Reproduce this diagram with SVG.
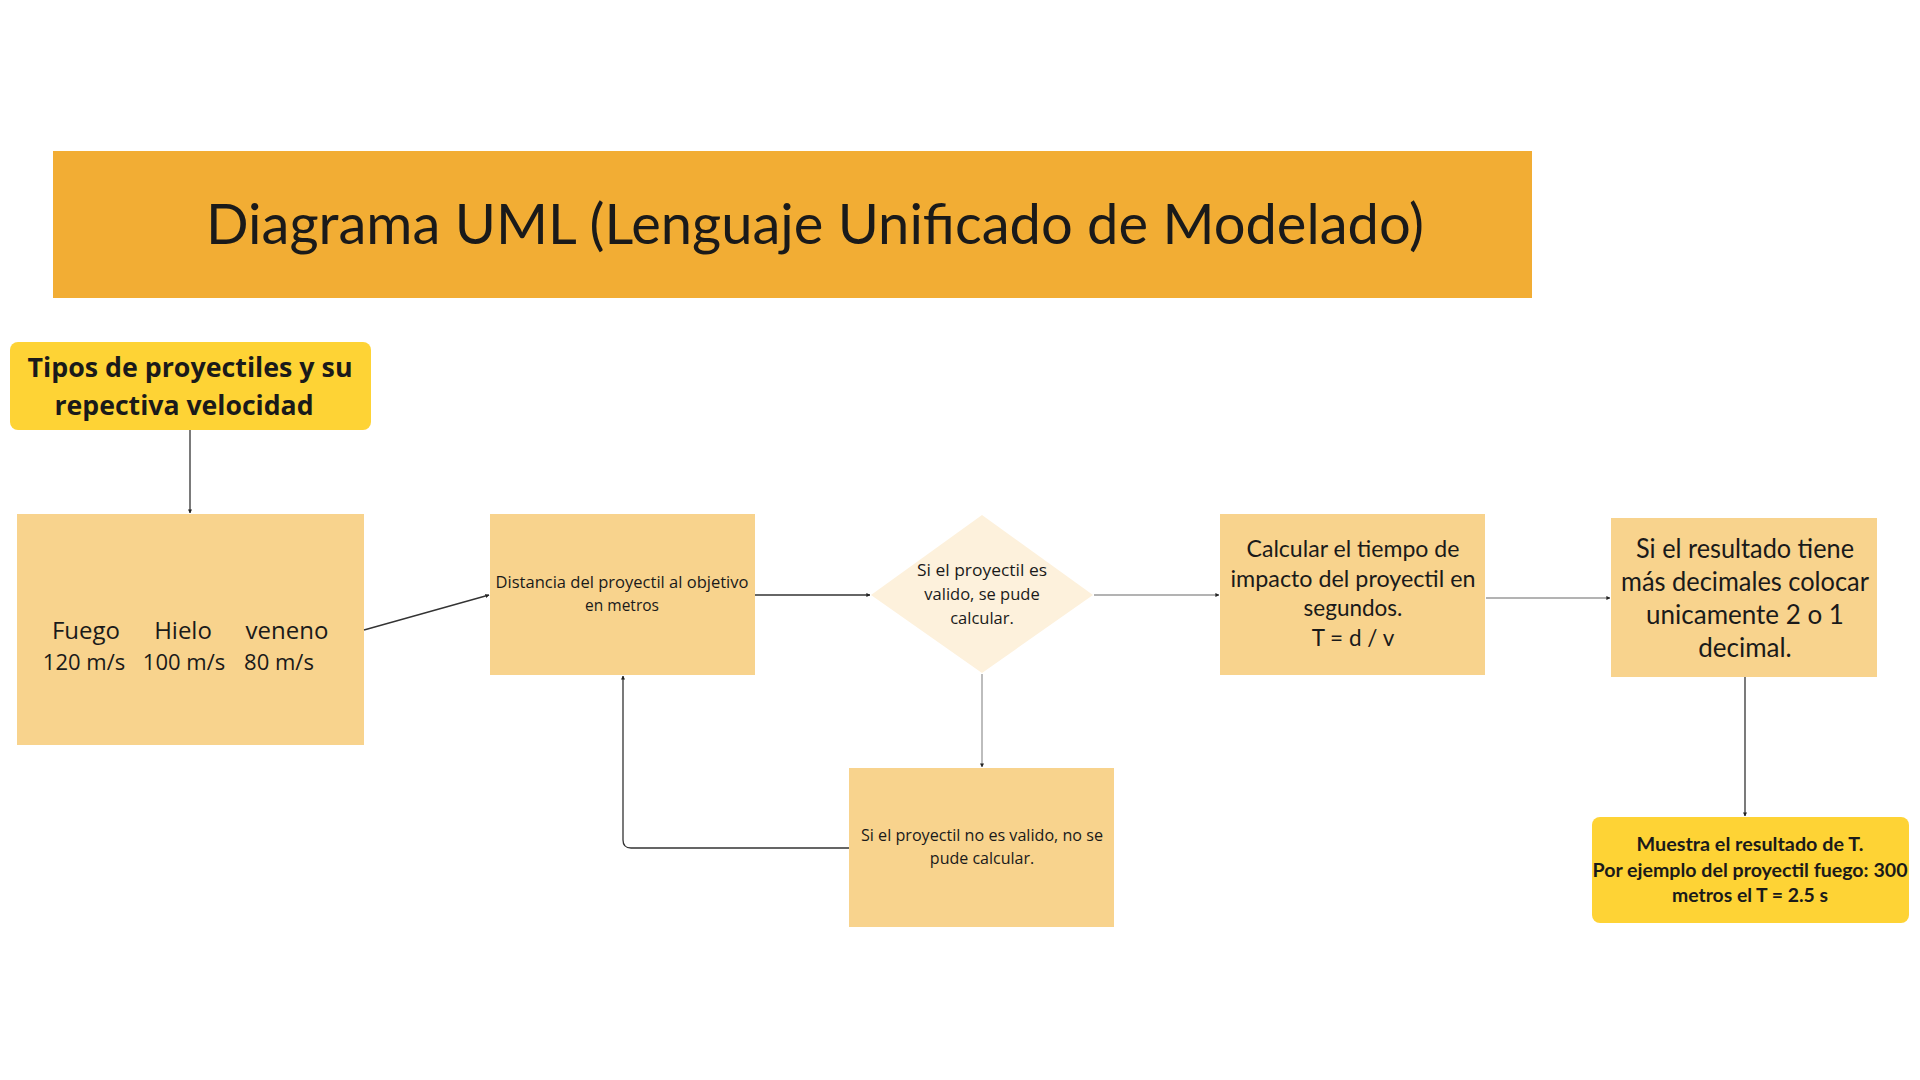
<svg xmlns="http://www.w3.org/2000/svg" width="1920" height="1080" viewBox="0 0 1920 1080">
<style>
.box{fill:#F8D38D}
.yel{fill:#FED335}
.t{font-family:"Open Sans","Liberation Sans",sans-serif;fill:#1a1a1a;text-anchor:middle}
.d{font-family:Lato,"Open Sans",sans-serif;fill:#1a1a1a;text-anchor:middle}
.b{font-weight:bold}
.c{fill:none;stroke-width:1.3}
.dk{stroke:#333}
.gr{stroke:#9a9a9a}
</style>
<defs>
<marker id="ah" viewBox="0 0 10 10" refX="9" refY="5" markerWidth="4" markerHeight="4" orient="auto" markerUnits="userSpaceOnUse">
<path d="M0,0 L10,5 L0,10 z" fill="#222"/>
</marker>
</defs>
<rect width="1920" height="1080" fill="#fff"/>
<g id="title">
<rect x="53" y="151" width="1479" height="147" fill="#F2AD34"/>
<text class="d" x="815" y="244" font-size="56" textLength="1218" lengthAdjust="spacingAndGlyphs">Diagrama UML (Lenguaje Unificado de Modelado)</text>
</g>
<g id="tipos">
<rect class="yel" x="10" y="342" width="361" height="88" rx="8"/>
<text class="t b" x="190" y="377" font-size="26" textLength="325" lengthAdjust="spacingAndGlyphs">Tipos de proyectiles y su</text>
<text class="t b" x="184" y="415" font-size="26" textLength="259" lengthAdjust="spacingAndGlyphs">repectiva velocidad</text>
</g>
<g id="proyectiles">
<rect class="box" x="17" y="514" width="347" height="231"/>
<text class="t" font-size="24" y="639"><tspan x="86">Fuego</tspan><tspan x="183">Hielo</tspan><tspan x="287">veneno</tspan></text>
<text class="t" font-size="22" y="670"><tspan x="84">120 m/s</tspan><tspan x="184">100 m/s</tspan><tspan x="279">80 m/s</tspan></text>
</g>
<g id="distancia">
<rect class="box" x="490" y="514" width="265" height="161"/>
<text class="t" x="622" y="588" font-size="15.5" textLength="253" lengthAdjust="spacingAndGlyphs">Distancia del proyectil al objetivo</text>
<text class="t" x="622" y="611" font-size="15.5">en metros</text>
</g>
<g id="decision">
<polygon points="982,515 1093,595 982,673 871,595" fill="#FDF1DC"/>
<text class="t" x="982" y="576" font-size="16.5" textLength="130" lengthAdjust="spacingAndGlyphs">Si el proyectil es</text>
<text class="t" x="982" y="600" font-size="16.5">valido, se pude</text>
<text class="t" x="982" y="624" font-size="16.5">calcular.</text>
</g>
<g id="calcular">
<rect class="box" x="1220" y="514" width="265" height="161"/>
<text class="d" x="1353" y="557" font-size="22.5" textLength="213" lengthAdjust="spacingAndGlyphs">Calcular el tiempo de</text>
<text class="d" x="1353" y="587" font-size="22.5" textLength="245" lengthAdjust="spacingAndGlyphs">impacto del proyectil en</text>
<text class="d" x="1353" y="616" font-size="22.5">segundos.</text>
<text class="d" x="1353" y="646" font-size="22.5">T = d / v</text>
</g>
<g id="resultado">
<rect class="box" x="1611" y="518" width="266" height="159"/>
<text class="d" x="1745" y="558" font-size="26" textLength="218" lengthAdjust="spacingAndGlyphs">Si el resultado tiene</text>
<text class="d" x="1745" y="591" font-size="26" textLength="248" lengthAdjust="spacingAndGlyphs">más decimales colocar</text>
<text class="d" x="1745" y="624" font-size="26">unicamente 2 o 1</text>
<text class="d" x="1745" y="657" font-size="26">decimal.</text>
</g>
<g id="muestra">
<rect class="yel" x="1592" y="817" width="317" height="106" rx="8"/>
<text class="d b" x="1750" y="851" font-size="18.5" textLength="227" lengthAdjust="spacingAndGlyphs">Muestra el resultado de T.</text>
<text class="d b" x="1750" y="877" font-size="18.5" textLength="315" lengthAdjust="spacingAndGlyphs">Por ejemplo del proyectil fuego: 300</text>
<text class="d b" x="1750" y="902" font-size="18.5" textLength="156" lengthAdjust="spacingAndGlyphs">metros el T = 2.5 s</text>
</g>
<g id="novalido">
<rect class="box" x="849" y="768" width="265" height="159"/>
<text class="t" x="982" y="841" font-size="16" textLength="242" lengthAdjust="spacingAndGlyphs">Si el proyectil no es valido, no se</text>
<text class="t" x="982" y="864" font-size="16">pude calcular.</text>
</g>
<g id="connectors">
<path class="c dk" d="M190,430 V513" marker-end="url(#ah)"/>
<path class="c dk" d="M364,630 L489,595" marker-end="url(#ah)"/>
<path class="c dk" d="M755,595 H870" marker-end="url(#ah)"/>
<path class="c gr" d="M1094,595 H1219" marker-end="url(#ah)"/>
<path class="c gr" d="M1486,598 H1610" marker-end="url(#ah)"/>
<path class="c gr" d="M982,674 V767" marker-end="url(#ah)"/>
<path class="c dk" d="M1745,677 V816" marker-end="url(#ah)"/>
<path class="c dk" d="M849,848 H631 Q623,848 623,840 V676" marker-end="url(#ah)"/>
</g>
</svg>
